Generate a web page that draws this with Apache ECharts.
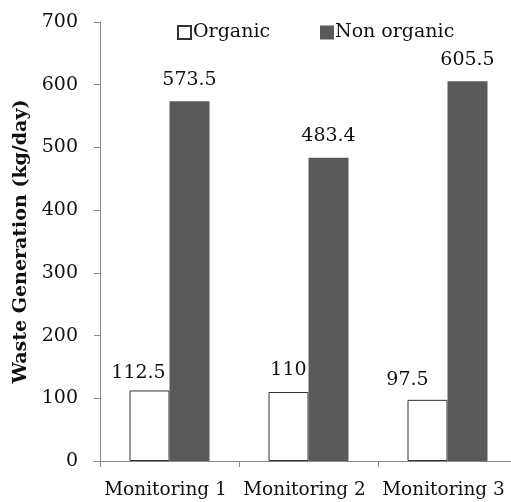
<!DOCTYPE html>
<html><head><meta charset="utf-8">
<script src="https://cdn.jsdelivr.net/npm/echarts@6/dist/echarts.min.js"></script>
<style>html,body{margin:0;padding:0;background:#fff;overflow:hidden}#c{width:517px;height:502px}</style>
</head><body><div id="c"></div>
<script>
var categories = ['Monitoring 1', 'Monitoring 2', 'Monitoring 3'];
var organic = [112.5, 110, 97.5];
var nonOrganic = [573.5, 483.4, 605.5];
var yTicks = [0, 100, 200, 300, 400, 500, 600, 700];

var font = 'DejaVu Serif';
var fs = 19;
var chart = echarts.init(document.getElementById('c'));
var organicOffsets = [[-11, 2], [0, -2], [-20, 0]];
var organicData = organic.map(function (v, i) {
  return { value: v, label: { offset: organicOffsets[i] } };
});
chart.setOption({
  animation: false,
  textStyle: { fontFamily: font },
  legend: [
    { left: 172, top: 18, itemWidth: 13, itemHeight: 13, itemGap: 4, icon: 'rect', data: ['Organic'],
      textStyle: { fontFamily: font, fontSize: fs, color: '#111', padding: [0,0,0,-3] } },
    { left: 315, top: 18, itemWidth: 14, itemHeight: 14, icon: 'rect', data: ['Non organic'],
      textStyle: { fontFamily: font, fontSize: fs, color: '#111', padding: [0,0,0,-4] } }
  ],
  grid: { left: 100, top: 22, right: 0, height: 439, containLabel: false },
  xAxis: {
    type: 'category', data: categories,
    axisLine: { lineStyle: { color: '#888' } },
    axisTick: { show: true, length: 6, lineStyle: { color: '#888' } },
    axisLabel: { fontFamily: font, fontSize: 18.5, color: '#111', margin: 20, interval: 0, padding: [0, 8, 0, 0] }
  },
  yAxis: {
    type: 'value', min: 0, max: 700, interval: 100,
    name: 'Waste Generation (kg/day)', nameLocation: 'middle', nameGap: 64,
    nameTextStyle: { fontFamily: font, fontSize: 19, fontWeight: 'bold', color: '#111' },
    splitLine: { show: false },
    axisLine: { show: true, lineStyle: { color: '#888' } },
    axisTick: { show: true, length: 6, lineStyle: { color: '#888' } },
    axisLabel: { fontFamily: font, fontSize: fs, color: '#111', margin: 22,
      formatter: function (v) { return yTicks.indexOf(v) >= 0 ? String(v) : ''; } }
  },
  series: [
    { name: 'Organic', type: 'bar', data: organicData, barWidth: 40, barGap: '0%',
      itemStyle: { color: '#fff', borderColor: '#333', borderWidth: 1 },
      label: { show: true, position: 'top', distance: 10, fontFamily: font, fontSize: fs, color: '#111' } },
    { name: 'Non organic', type: 'bar', data: nonOrganic, barWidth: 40,
      itemStyle: { color: '#595959' },
      label: { show: true, position: 'top', distance: 12, fontFamily: font, fontSize: fs, color: '#111' } }
  ]
});
</script></body></html>
